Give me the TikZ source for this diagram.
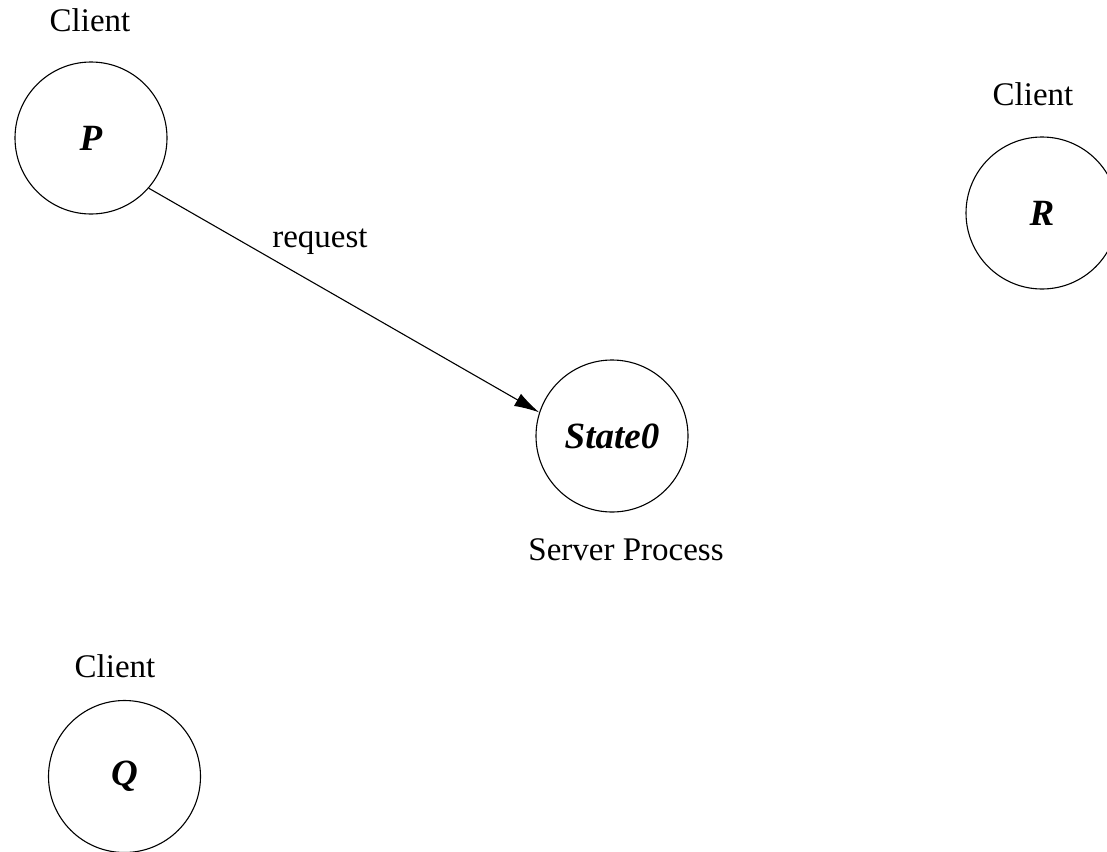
\documentclass[tikz,border=0pt]{standalone}
\usepackage{fontspec}
\setmainfont{Liberation Serif}
\usetikzlibrary{arrows.meta}
\tikzset{
  proc/.style={circle, draw, line width=1.1pt, minimum size=152pt, inner sep=0pt,
               font=\fontsize{37}{44}\selectfont\bfseries\itshape},
  caption/.style={anchor=base, inner sep=0pt, font=\fontsize{33}{40}\selectfont},
  msg/.style={line width=1.1pt, -{Latex[length=25pt,width=14pt]}}
}
\begin{document}
\begin{tikzpicture}[x=1pt, y=-1pt]
  \useasboundingbox (0,0) rectangle (1107,851);
  \clip (0,0) rectangle (1107,851);

  % processes
  \node[proc] (P) at (91,138) {P};
  \node[proc] (R) at (1042,213) {R};
  \node[proc] (S) at (612,436) {State0};
  \node[proc] (Q) at (124.5,776.5) {Q};

  % role captions
  \node[caption] (cP) at (90,32) {Client};
  \node[caption] (cR) at (1033,105) {Client};
  \node[caption] (cQ) at (115,677) {Client};
  \node[caption] (cS) at (626,560) {Server Process};

  % request message
  \draw[msg] (P.-41) -- (S.162);
  \node[caption] (req) at (320,247) {request};
\end{tikzpicture}
\end{document}
